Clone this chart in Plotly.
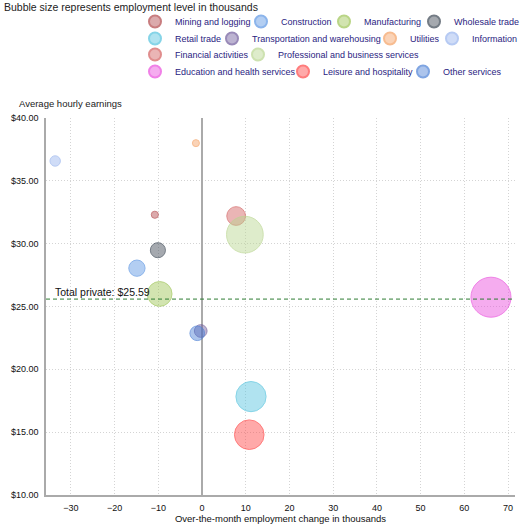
import numpy as np
import plotly.graph_objects as go

# sectors, in legend order
sectors = [
    "Mining and logging", "Construction", "Manufacturing", "Wholesale trade",
    "Retail trade", "Transportation and warehousing", "Utilities", "Information",
    "Financial activities", "Professional and business services",
    "Education and health services", "Leisure and hospitality", "Other services",
]
# over-the-month employment change (thousands)
emp_change = [-10.8, -14.9, -9.7, -10.1, 11.2, -0.3, -1.4, -33.6, 7.8, 9.8, 66.1, 10.8, -1.1]
# average hourly earnings ($)
earnings = [32.30, 28.05, 26.00, 29.48, 17.83, 23.05, 38.00, 36.58, 32.20, 30.72, 25.74, 14.80, 22.87]
# employment level (thousands)
employment = [650, 6700, 12300, 5900, 15900, 4300, 555, 2800, 8300, 20200, 22400, 15500, 5600]
colors = ["#B2474A", "#5B95E3", "#9CC453", "#3A4552", "#53C3DE", "#6E5A9B", "#F5A062",
          "#98B4EE", "#D35E5E", "#B9D68F", "#EA4BDD", "#FF4545", "#4A7FD6"]

total_private = 25.59

W, H = 523, 524
L, R, T, B = 46, 8, 118, 29
PW, PH = W - L - R, H - T - B

# legend placement: text start x and row centre y, in px
leg_px = [(175, 21), (281, 21), (364, 21), (454, 21),
          (175, 38), (252, 38), (410, 38), (472, 38),
          (175, 54), (278, 54),
          (175, 71), (323, 71), (443, 71)]


def rgba(hx, a):
    hx = hx.lstrip("#")
    r, g, b = int(hx[0:2], 16), int(hx[2:4], 16), int(hx[4:6], 16)
    return f"rgba({r},{g},{b},{a})"


def px2paper(px, py):
    return (px - L) / PW, (H - B - py) / PH


emp = np.array(employment, dtype=float)
diam = 2 * (3.5 + 16.5 * (emp - emp.min()) / (emp.max() - emp.min()))

fig = go.Figure()
for i, name in enumerate(sectors):
    leg = "legend" if i == 0 else f"legend{i + 1}"
    fig.add_trace(go.Scatter(
        x=[emp_change[i]], y=[earnings[i]], name=name, mode="markers",
        legend=leg,
        marker=dict(size=[diam[i]], sizemode="diameter", sizeref=1,
                    color=rgba(colors[i], 0.65),
                    line=dict(color=colors[i], width=1)),
        hovertemplate=f"{name}<br>%{{x}}<br>$%{{y:.2f}}<extra></extra>",
    ))

font = "Liberation Sans"
legends = {}
for i, (tx, ty) in enumerate(leg_px):
    key = "legend" if i == 0 else f"legend{i + 1}"
    legends[key] = dict(
        xref="container", yref="container",
        x=(tx - 40) / W, y=1 - (ty - 14) / H,
        xanchor="left", yanchor="top",
        orientation="h", itemsizing="constant", itemwidth=30,
        bgcolor="rgba(0,0,0,0)", borderwidth=0,
        font=dict(family=font, size=9, color="#2A237F"),
    )

fig.add_shape(type="line", xref="paper", x0=0, x1=1, yref="y",
              y0=total_private, y1=total_private,
              line=dict(color="#2E7D32", width=1, dash="4px,3px"))

fig.add_annotation(x=-34.0, y=total_private, xref="x", yref="y",
                   text=f"Total private: ${total_private:.2f}", showarrow=False,
                   xanchor="left", yanchor="bottom", yshift=-1,
                   font=dict(family=font, size=10.5, color="#111"))
ax, ay = px2paper(2, 7)
fig.add_annotation(x=ax, y=ay, xref="paper", yref="paper",
                   text="Bubble size represents employment level in thousands",
                   showarrow=False, xanchor="left", yanchor="middle",
                   font=dict(family=font, size=10.5, color="#222"))
ax, ay = px2paper(17, 103)
fig.add_annotation(x=ax, y=ay, xref="paper", yref="paper",
                   text="Average hourly earnings", showarrow=False,
                   xanchor="left", yanchor="middle",
                   font=dict(family=font, size=9.5, color="#222"))

fig.update_layout(
    width=W, height=H,
    margin=dict(l=L, r=R, t=T, b=B, autoexpand=False),
    plot_bgcolor="white", paper_bgcolor="white",
    font=dict(family=font, size=9, color="#111"),
    showlegend=True,
    **legends,
)
fig.update_xaxes(range=[-35.7, 71.6], tickvals=list(range(-30, 80, 10)),
                 showgrid=True, gridcolor="#d4d4d4", griddash="1px,2px",
                 zeroline=True, zerolinecolor="#aaaaaa", zerolinewidth=2,
                 showline=True, linecolor="#aaaaaa", linewidth=1.5,
                 ticks="", ticklabelstandoff=3,
                 title=dict(text="Over-the-month employment change in thousands",
                            standoff=2, font=dict(size=9.5)))
fig.update_yaxes(range=[10, 40], tickvals=list(range(10, 45, 5)), tickformat="$.2f",
                 showgrid=True, gridcolor="#d4d4d4", griddash="1px,2px",
                 zeroline=False, showline=True, linecolor="#aaaaaa", linewidth=1.5,
                 ticks="", ticklabelstandoff=4)

fig.write_html("out.html", config={"displayModeBar": False},
               post_script="document.body.style.margin='0';document.body.style.padding='0';")
